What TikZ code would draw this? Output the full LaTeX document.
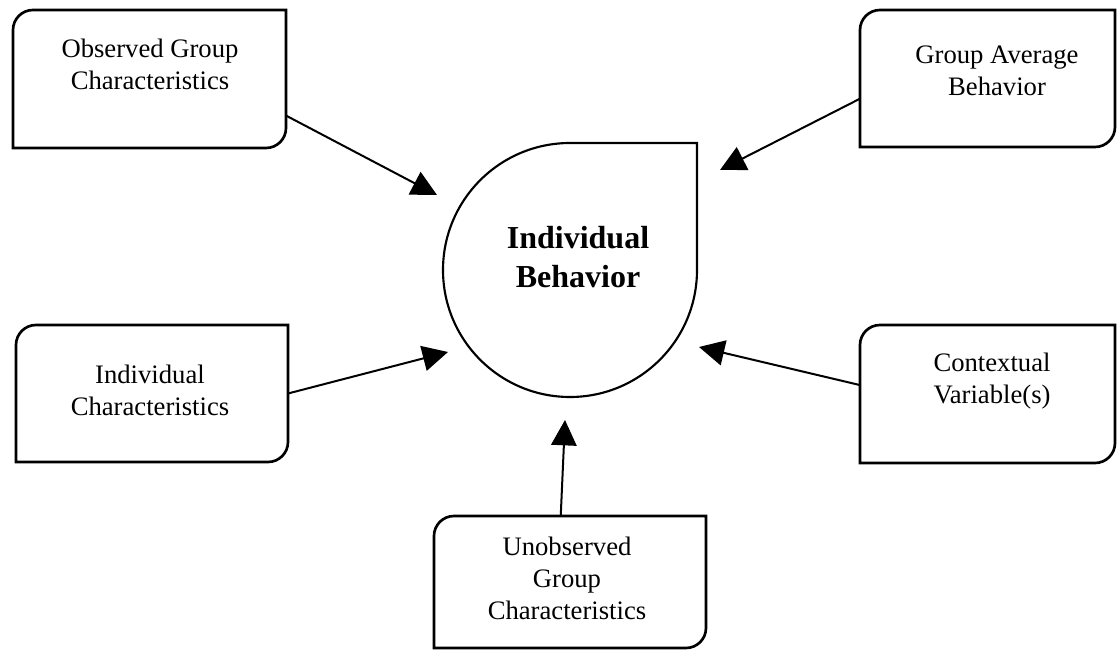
\documentclass[tikz,border=0pt]{standalone}
\usepackage{fontspec}
\setmainfont{Liberation Serif}
\usetikzlibrary{arrows.meta}

\tikzset{
  box/.style={draw=none, inner sep=0pt, outer sep=0pt},
  boxline/.style={line width=2pt},
  lbl/.style={align=center, font=\fontsize{20pt}{24pt}\selectfont},
  arr/.style={line width=1.5pt, -{Triangle[length=19pt,width=19pt]}},
}

\begin{document}
\begin{tikzpicture}[x=0.75pt, y=0.75pt]
  \useasboundingbox (0,0) rectangle (1117,650);

  % the five boxes
  \node[box, minimum width=204.75pt, minimum height=103.5pt]  (OG) at (149.5,571)  {};
  \node[box, minimum width=191.25pt, minimum height=102.75pt] (GA) at (987.5,571.5) {};
  \node[box, minimum width=204pt,    minimum height=102.75pt] (IC) at (152,256.5)  {};
  \node[box, minimum width=191.25pt, minimum height=103.5pt]  (CV) at (987.5,256)  {};
  \node[box, minimum width=204pt,    minimum height=99pt]     (UG) at (570,68)     {};

  \foreach \b in {OG,GA,IC,CV,UG}
    \draw[boxline] (\b.south west) [rounded corners=15pt] -- (\b.north west)
      [sharp corners] -- (\b.north east) [rounded corners=15pt] -- (\b.south east)
      [sharp corners] -- cycle;

  \node[lbl] (OGt) at (150,586) {Observed Group\\Characteristics};
  \node[lbl] (GAt) at (997,579) {Group Average\\Behavior};
  \node[lbl] (ICt) at (150,260) {Individual\\Characteristics};
  \node[lbl] (CVt) at (992,269) {Contextual\\Variable(s)};
  \node[lbl] (UGt) at (567,72)  {Unobserved\\Group\\Characteristics};

  % individual behavior: circle with a square corner
  \coordinate (Bc) at (570,380);
  \draw[line width=1.6pt] (Bc) ++(127,0) -- ++(0,127) -- ++(-127,0)
    arc[start angle=90, end angle=360, radius=127];
  \node[align=center, font=\bfseries\fontsize{24pt}{29pt}\selectfont] (B) at (578,393)
    {Individual\\Behavior};

  % arrow tips
  \coordinate (t1) at (437,455);
  \coordinate (t2) at (720,480);
  \coordinate (t3) at (448,298);
  \coordinate (t4) at (699,303);
  \coordinate (t5) at (565,230);

  \draw[arr] (OG.-15.6) -- (t1);
  \draw[arr] (GA.189.6) -- (t2);
  \draw[arr] (IC.east)  -- (t3);
  \draw[arr] (CV.176)   -- (t4);
  \draw[arr] (UG.98.6)  -- (t5);
\end{tikzpicture}
\end{document}
